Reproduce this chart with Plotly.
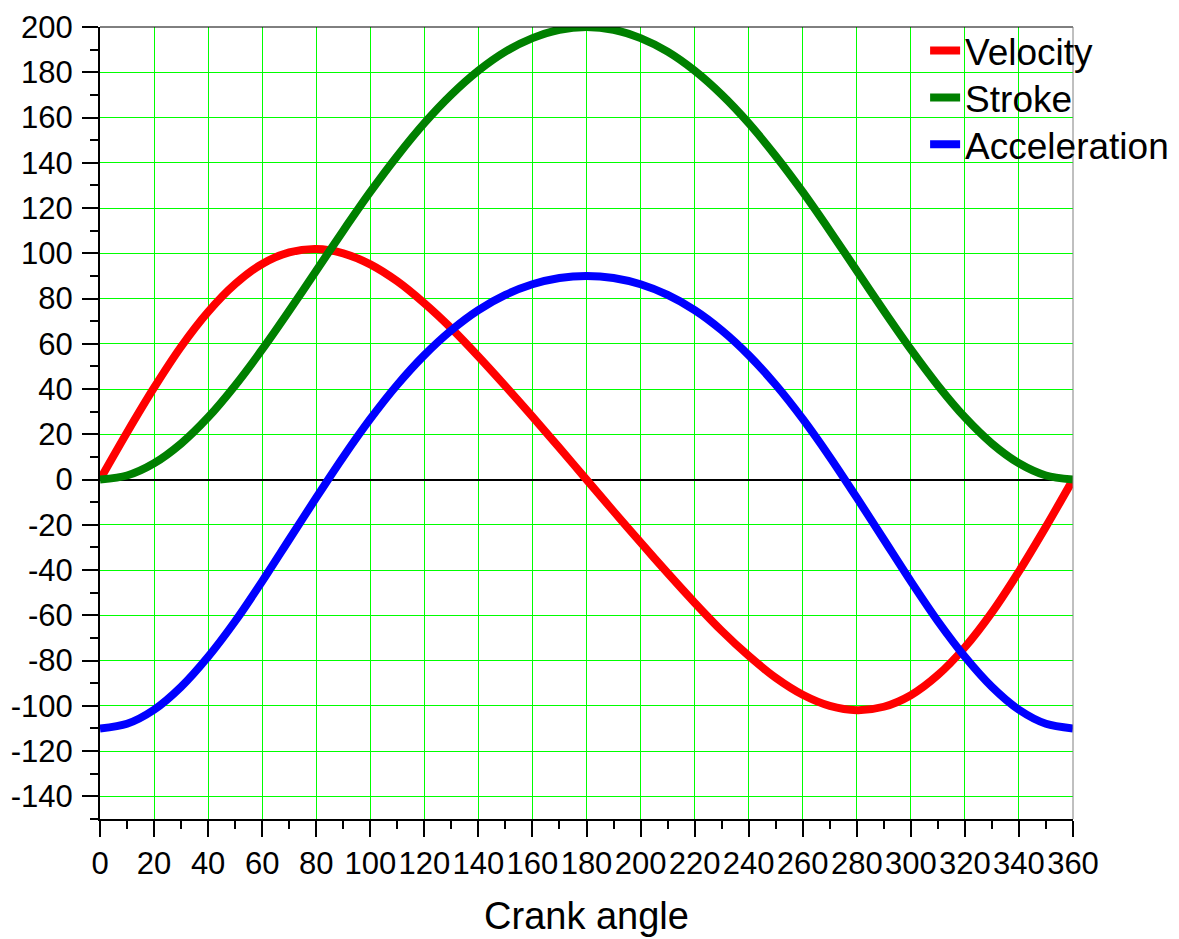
import plotly.graph_objects as go

# Crank angle (degrees)
crank_angle = [0, 10, 20, 30, 40, 50, 60, 70, 80, 90, 100, 110, 120, 130, 140, 150, 160, 170, 180,
               190, 200, 210, 220, 230, 240, 250, 260, 270, 280, 290, 300, 310, 320, 330, 340, 350, 360]

velocity = [0, 20.8, 40.6, 58.7, 74.1, 86.4, 95.3, 100.4, 101.9, 100, 95.1, 87.6, 77.9, 66.8, 54.4, 41.3, 27.8, 14.0, 0,
            -14.0, -27.8, -41.3, -54.4, -66.8, -77.9, -87.6, -95.1, -100, -101.9, -100.4, -95.3, -86.4, -74.1, -58.7, -40.6, -20.8, 0]

stroke = [0, 1.8, 7.2, 15.9, 27.5, 41.6, 57.5, 74.6, 92.3, 110, 127.1, 143.0, 157.5, 170.1, 180.7, 189.1, 195.1, 198.8, 200,
          198.8, 195.1, 189.1, 180.7, 170.1, 157.5, 143.0, 127.1, 110, 92.3, 74.6, 57.5, 41.6, 27.5, 15.9, 7.2, 1.8, 0]

acceleration = [-110, -107.9, -101.7, -91.6, -78.3, -62.6, -45, -26.5, -8.0, 10, 26.8, 41.9, 55, 66.0, 74.9, 81.6, 86.3, 89.1, 90,
                89.1, 86.3, 81.6, 74.9, 66.0, 55, 41.9, 26.8, 10, -8.0, -26.5, -45, -62.6, -78.3, -91.6, -101.7, -107.9, -110]

series_names = ["Velocity", "Stroke", "Acceleration"]
series_colors = ["#ff0000", "#008000", "#0000ff"]

x_tickvals = [0, 20, 40, 60, 80, 100, 120, 140, 160, 180, 200, 220, 240, 260, 280, 300, 320, 340, 360]
x_ticktext = ["0", "20", "40", "60", "80", "100", "120", "140", "160", "180", "200", "220", "240",
              "260", "280", "300", "320", "340", "360"]
y_tickvals = [200, 180, 160, 140, 120, 100, 80, 60, 40, 20, 0, -20, -40, -60, -80, -100, -120, -140]
y_ticktext = ["200", "180", "160", "140", "120", "100", "80", "60", "40", "20", "0", "-20", "-40",
              "-60", "-80", "-100", "-120", "-140"]

FONT = "Liberation Sans, Arial, sans-serif"

legend_ids = ["legend", "legend2", "legend3"]
legend_y = [1.009, 0.9497, 0.8904]

fig = go.Figure()
for name, vals, col, lg in zip(series_names, [velocity, stroke, acceleration], series_colors, legend_ids):
    fig.add_trace(go.Scatter(x=crank_angle, y=vals, mode="lines", name=name, legend=lg,
                             line=dict(color=col, width=8, shape="spline", smoothing=0.8)))

common_tick = dict(tickwidth=2, tickcolor="black", ticklen=16)

legend_style = dict(x=0.848, xanchor="left", yanchor="top",
                    bgcolor="rgba(0,0,0,0)", font=dict(size=37, family=FONT, color="black"),
                    borderwidth=0)

fig.update_layout(
    width=1179, height=939,
    paper_bgcolor="white", plot_bgcolor="white",
    margin=dict(l=92, r=114, t=19, b=128, autoexpand=False),
    font=dict(family=FONT, color="black", size=31),
    showlegend=True,
    legend=dict(y=legend_y[0], **legend_style),
    legend2=dict(y=legend_y[1], **legend_style),
    legend3=dict(y=legend_y[2], **legend_style),
    xaxis=dict(range=[0, 360], tickmode="array", tickvals=x_tickvals, ticktext=x_ticktext,
               ticks="outside", **common_tick,
               minor=dict(dtick=10, tick0=0, ticks="outside", ticklen=8, tickwidth=2, tickcolor="black", showgrid=False),
               showgrid=True, gridcolor="#00ff00", gridwidth=1,
               zeroline=False, showline=True, linecolor="black", linewidth=2,
               tickfont=dict(size=31, family=FONT, color="black"), ticklabelstandoff=0,
               title=dict(text="Crank angle", font=dict(size=38, family=FONT, color="black"), standoff=22)),
    yaxis=dict(range=[-150, 200], tickmode="array", tickvals=y_tickvals, ticktext=y_ticktext,
               ticks="outside", **common_tick,
               minor=dict(dtick=10, tick0=0, ticks="outside", ticklen=8, tickwidth=2, tickcolor="black", showgrid=False),
               showgrid=True, gridcolor="#00ff00", gridwidth=1,
               zeroline=True, zerolinecolor="black", zerolinewidth=2,
               showline=True, linecolor="black", linewidth=2,
               tickfont=dict(size=31, family=FONT, color="black"), ticklabelstandoff=3),
    xaxis2=dict(range=[0, 360], dtick=20, tick0=0, overlaying="x", anchor="y", side="bottom",
                ticks="inside", **common_tick,
                minor=dict(dtick=10, tick0=0, ticks="inside", ticklen=8, tickwidth=2, tickcolor="black", showgrid=False),
                showticklabels=False, showgrid=False, zeroline=False, showline=False),
    yaxis2=dict(range=[-150, 200], dtick=20, tick0=0, overlaying="y", anchor="x", side="left",
                ticks="inside", **common_tick,
                minor=dict(dtick=10, tick0=0, ticks="inside", ticklen=8, tickwidth=2, tickcolor="black", showgrid=False),
                showticklabels=False, showgrid=False, zeroline=False, showline=False),
)

# frame lines (top black, right grey)
fig.add_shape(type="line", xref="paper", yref="paper", x0=0, x1=1, y0=1, y1=1,
              line=dict(color="black", width=1))
fig.add_shape(type="line", xref="paper", yref="paper", x0=1, x1=1, y0=0, y1=1,
              line=dict(color="#808080", width=1))

fig.write_html("out.html")
